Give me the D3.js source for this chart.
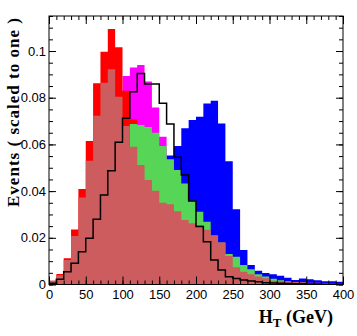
<!DOCTYPE html>
<html>
<head>
<meta charset="utf-8">
<script src="https://cdn.jsdelivr.net/npm/d3@7"></script>
<style>
  body { margin: 0; background: #fff; }
  .tick text { font-family: "Liberation Sans", Arial, sans-serif; font-size: 13px; fill: #000; }
  .title { font-family: "Liberation Serif", "Times New Roman", serif; font-weight: bold; fill: #000; }
</style>
</head>
<body>
<script>
// bin edges: 40 bins of 10 GeV from 0 to 400
var binEdges = d3.range(0, 401, 10);
var xTicks = [0, 50, 100, 150, 200, 250, 300, 350, 400];
var yTicks = [0, 0.02, 0.04, 0.06, 0.08, 0.1];

var magentaVals = [0,0.001,0.003,0.007,0.013,0.022,0.035,0.05,0.065,0.078,0.0893,0.0929,0.094,0.0869,0.0758,0.0633,0.05,0.04,0.031,0.023,0.017,0.012,0.009,0.006,0.004,0.003,0.002,0.0015,0.001,0.0008,0.0006,0.0005,0.0004,0.0003,0.0002,0.0002,0.0001,0.0001,0.0001,0];
var redVals = [0.0016,0.0045,0.0112,0.0236,0.0409,0.0615,0.0862,0.0997,0.1094,0.1016,0.083,0.0707,0.06,0.05,0.042,0.034,0.027,0.021,0.016,0.012,0.009,0.007,0.005,0.004,0.003,0.002,0.0015,0.001,0.0008,0.0006,0.0005,0.0004,0.0003,0.0002,0.0002,0.0001,0.0001,0.0001,0,0];
var blueVals = [0,0,0,0,0.0005,0.001,0.002,0.003,0.005,0.008,0.012,0.017,0.023,0.029,0.036,0.045,0.0553,0.0593,0.0669,0.0705,0.0719,0.0775,0.0787,0.069,0.0528,0.0322,0.0148,0.0084,0.0059,0.0049,0.0044,0.0038,0.0029,0.0019,0.0026,0.0023,0.0018,0.0014,0.0014,0.0012];
var greenVals = [0,0.0005,0.001,0.002,0.004,0.007,0.012,0.019,0.028,0.04,0.055,0.0687,0.0683,0.0675,0.065,0.0593,0.0536,0.049,0.0433,0.0359,0.0312,0.0269,0.021,0.018,0.0131,0.0119,0.0084,0.0065,0.0044,0.0034,0.0025,0.0018,0.0014,0.001,0.0008,0.0006,0.0005,0.0004,0.0003,0.0002];
var roseVals = [0.0016,0.004,0.0105,0.0208,0.0373,0.053,0.0723,0.0864,0.0922,0.0804,0.0679,0.059,0.0512,0.0448,0.0402,0.035,0.0344,0.0314,0.0276,0.0262,0.0255,0.0235,0.021,0.018,0.0122,0.0074,0.0055,0.0044,0.0034,0.0027,0.0016,0.0014,0.0012,0.0011,0.001,0.0008,0.0007,0.0006,0.0005,0.0004];
var blackVals = [0.0005,0.0022,0.0055,0.0091,0.014,0.0198,0.0279,0.0383,0.0487,0.0609,0.0712,0.0826,0.0904,0.0859,0.0859,0.0776,0.0687,0.0545,0.0469,0.0358,0.0248,0.0183,0.0105,0.0062,0.0033,0.0026,0.0019,0.0015,0.0012,0.0008,0.0006,0.0005,0.0004,0.0003,0.0003,0.0002,0.0002,0.0001,0.0001,0.0001];

var svgWidth = 357, svgHeight = 336;
var margin = {top: 16, right: 14, bottom: 51.5, left: 49};
var width = svgWidth - margin.left - margin.right;
var height = svgHeight - margin.top - margin.bottom;

var svg = d3.select("body").append("svg").attr("width", svgWidth).attr("height", svgHeight);
var chartGroup = svg.append("g").attr("transform", `translate(${margin.left}, ${margin.top})`);

var x = d3.scaleLinear().domain([0, 400]).range([0, width]);
var y = d3.scaleLinear().domain([0, 0.115]).range([height, 0]);

function steps(vals) {
    var pts = [];
    vals.forEach(function(v, i) {
        pts.push([binEdges[i], v]);
        pts.push([binEdges[i + 1], v]);
    });
    return pts;
}

var area = d3.area().x(d => x(d[0])).y0(y(0)).y1(d => y(d[1]));
var line = d3.line().x(d => x(d[0])).y(d => y(d[1]));

// filled histograms, drawn over one another
var fills = [
    [magentaVals, "#ff00ff"],
    [redVals, "#ff0000"],
    [blueVals, "#0000ff"],
    [greenVals, "#56d556"],
    [roseVals, "#cd5c5f"]
];
fills.forEach(function(f) {
    chartGroup.append("path").attr("d", area(steps(f[0]))).attr("fill", f[1]);
});

chartGroup.append("path").attr("d", line(steps(blackVals)))
    .attr("fill", "none").attr("stroke", "#000").attr("stroke-width", 1.5);

// axes, ROOT style: ticks inside the frame
chartGroup.append("g").attr("transform", `translate(0,${height})`)
    .call(d3.axisBottom(x).tickValues(d3.range(0, 401, 10)).tickSize(-4).tickFormat(""));
chartGroup.append("g").attr("transform", `translate(0,${height})`)
    .call(d3.axisBottom(x).tickValues(xTicks).tickSize(-8).tickPadding(5).tickFormat(d3.format("d")));
chartGroup.append("g")
    .call(d3.axisTop(x).tickValues(d3.range(0, 401, 10)).tickSize(-4).tickFormat(""));
chartGroup.append("g")
    .call(d3.axisTop(x).tickValues(xTicks).tickSize(-8).tickFormat(""));

chartGroup.append("g")
    .call(d3.axisLeft(y).tickValues(d3.range(0, 0.1151, 0.005)).tickSize(-4).tickFormat(""));
chartGroup.append("g")
    .call(d3.axisLeft(y).tickValues(yTicks).tickSize(-7).tickPadding(3).tickFormat(d3.format("~g")));
chartGroup.append("g").attr("transform", `translate(${width},0)`)
    .call(d3.axisRight(y).tickValues(d3.range(0, 0.1151, 0.005)).tickSize(-4).tickFormat(""));
chartGroup.append("g").attr("transform", `translate(${width},0)`)
    .call(d3.axisRight(y).tickValues(yTicks).tickSize(-7).tickFormat(""));

chartGroup.selectAll(".domain").remove();
chartGroup.selectAll(".tick line").attr("stroke", "#000");

chartGroup.append("rect").attr("width", width).attr("height", height)
    .attr("fill", "none").attr("stroke", "#000").attr("stroke-width", 1);

// x-axis label
var xt = svg.append("text").attr("class", "title").attr("x", 333).attr("y", 323)
    .attr("text-anchor", "end").style("font-size", "18px");
xt.append("tspan").text("H");
xt.append("tspan").attr("dy", 4).style("font-size", "13px").text("T");
xt.append("tspan").attr("dy", -4).text(" (GeV)");

// y-axis label
svg.append("text").attr("class", "title").attr("transform", "translate(19,18) rotate(-90)")
    .attr("text-anchor", "end").style("font-size", "17px")
    .attr("textLength", 189).attr("lengthAdjust", "spacing")
    .text("Events ( scaled to one )");
</script>
</body>
</html>
